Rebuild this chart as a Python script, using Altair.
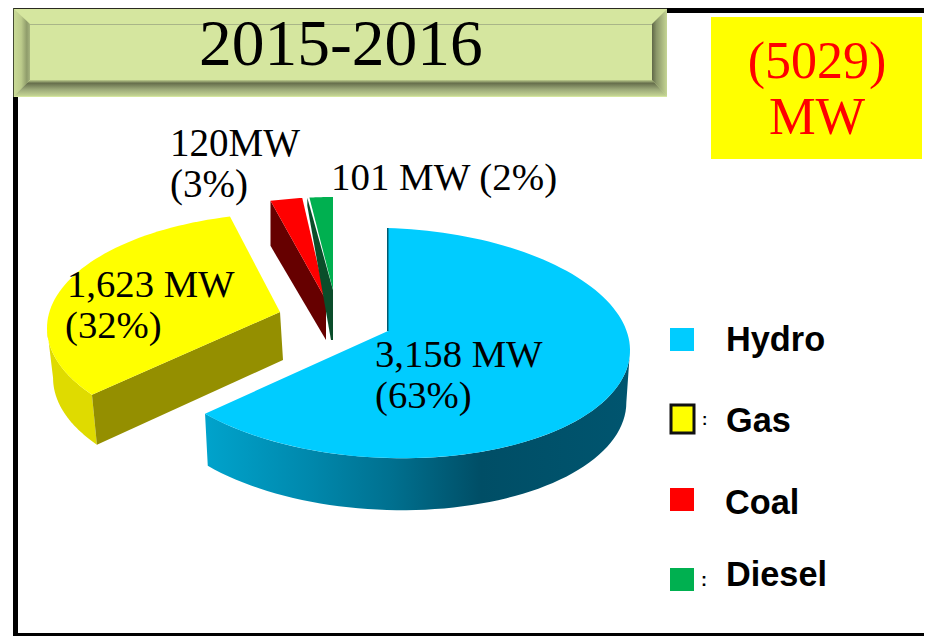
import math
import altair as alt
import pandas as pd

# ---- values ----
categories = ["Hydro", "Gas", "Coal", "Diesel"]
values_mw = [3158, 1623, 120, 101]
colors = ["#00CCFF", "#FFFF00", "#FF0000", "#00B050"]
title_text = "2015-2016"
total_lines = ["(5029)", "MW"]

W, H = 916, 628
RX, RY = 243, 115

# per-slice layout of the exploded 3-D pie (page pixels)
layout = {
    "Hydro":  dict(cx=387, cy=343, ax=388, ay=331, d=52, s=0.985, tilt=0.03, a0=0, a1=1.2),
    "Gas":    dict(cx=290, cy=328, ax=280, ay=312, d=50, s=0.975, tilt=0.0, a0=7.3, a1=1.6),
    "Coal":   dict(cx=333, cy=312, ax=326, ay=300, d=40, s=1.0, tilt=0.0, a0=1, a1=0),
    "Diesel": dict(cx=333, cy=312, ax=333, ay=290, d=50, s=1.0, tilt=0.0, a0=1.2, a1=0),
}

x_scale = alt.Scale(domain=[8, 8 + W], range=[0, W], nice=False, zero=False)
y_scale = alt.Scale(domain=[8 + H, 8], range=[H, 0], nice=False, zero=False)


def poly(points, **mark):
    rows = [{"x": p[0], "y": p[1], "i": i} for i, p in enumerate(list(points) + [points[0]])]
    if "stroke" not in mark:
        mark["stroke"] = "#000000"
        mark["strokeOpacity"] = 0
    return alt.Chart(pd.DataFrame(rows)).mark_line(**mark).encode(
        x=alt.X("x:Q", scale=x_scale, axis=None),
        y=alt.Y("y:Q", scale=y_scale, axis=None),
        order="i:Q",
    )


def grad(stops, x1=0, y1=0, x2=1, y2=0):
    return alt.LinearGradient(
        gradient="linear", x1=x1, y1=y1, x2=x2, y2=y2,
        stops=[alt.GradientStop(offset=o, color=c) for o, c in stops],
    )


def rect(x0, y0, x1, y1, color, **kw):
    return alt.Chart(alt.Data(values=[{}])).mark_rect(color=color, **kw).encode(
        x=alt.value(x0 - 8), x2=alt.value(x1 - 8), y=alt.value(y0 - 8), y2=alt.value(y1 - 8)
    )


def text(s, x, y, size, font="Liberation Serif", color="#000000", align="left", weight="normal"):
    return alt.Chart(alt.Data(values=[{}])).mark_text(
        text=s, font=font, fontSize=size, color=color, align=align,
        baseline="alphabetic", fontWeight=weight,
    ).encode(x=alt.value(x - 8), y=alt.value(y - 8))


def top_pt(l, deg):
    t = math.radians(deg)
    x = l["cx"] + RX * math.sin(t)
    y = l["cy"] - RY * math.cos(t) + l["tilt"] * (x - l["cx"])
    return (x, y)


def bot_pt(l, deg):
    t = math.radians(deg)
    x = l["cx"] + RX * l["s"] * math.sin(t)
    y = l["cy"] - RY * math.cos(t) + l["tilt"] * (x - l["cx"]) + l["d"]
    return (x, y)


def arc(fn, l, a, b, n=60):
    return [fn(l, a + (b - a) * k / n) for k in range(n + 1)]


total = sum(values_mw)
angles = {}
acc = 0.0
for name, v in zip(categories, values_mw):
    start = acc / total * 360
    acc += v
    end = acc / total * 360
    l = layout[name]
    angles[name] = (start + l["a0"], end + l["a1"])

layers = []

# frame
layers += [
    rect(13, 97, 18, 636, "#000000"),
    rect(13, 633, 924, 636, "#000000"),
    rect(660, 8, 924, 13, "#000000"),
]

# bevelled title box
layers.append(rect(13, 8, 667, 97, "#D5E69F"))
layers.append(poly([(14, 9), (30, 24), (30, 80), (14, 96)],
                   fill=grad([(0, "#C9DA96"), (0.45, "#BCCB8B"), (0.8, "#8F9C6B"), (1, "#A6B47F")])))
layers.append(poly([(14, 96), (30, 80), (652, 80), (667, 96)],
                   fill=grad([(0, "#C5D594"), (0.42, "#9BA878"), (0.8, "#666E4C"), (1, "#BFCF8E")],
                             x1=0, y1=1, x2=0, y2=0)))
layers.append(poly([(667, 9), (652, 24), (652, 80), (667, 96)],
                   fill=grad([(0, "#5F6747"), (0.3, "#8A9669"), (1, "#C5D594")])))
layers.append(rect(30, 24, 652, 25, "#A9B588"))
layers.append(rect(13, 8, 667, 9, "#2A2A20"))
layers.append(rect(13, 8, 14, 97, "#444A33"))
layers.append(rect(711, 17, 922, 159, "#FFFF00"))

# ---- pie ----
h = layout["Hydro"]
a0, a1 = angles["Hydro"]
layers.append(poly(arc(top_pt, h, 90, a1) + arc(bot_pt, h, a1, 90),
                   fill=grad([(0, "#00A3CC"), (0.25, "#0088AC"), (0.44, "#00708F"),
                              (0.65, "#004E66"), (1, "#00556F")])))
layers.append(poly([(h["ax"], h["ay"])] + arc(top_pt, h, a0, a1, 120), fill=colors[0]))
layers.append(poly([top_pt(h, a0), (top_pt(h, a0)[0] + 1.5, top_pt(h, a0)[1]),
                    (h["ax"] + 0.5, h["ay"]), (h["ax"] - 1, h["ay"])], fill="#005A70"))

g = layout["Gas"]
a0, a1 = angles["Gas"]
layers.append(poly(arc(top_pt, g, a0, 270) + arc(bot_pt, g, 270, a0), fill="#DFDB00"))
c0, c1 = top_pt(g, a0), bot_pt(g, a0)
layers.append(poly([c0, (g["ax"], g["ay"]), (g["ax"] + 3, g["ay"] + 48), c1], fill="#948F00"))
layers.append(poly([(g["ax"], g["ay"])] + arc(top_pt, g, a0, a1), fill=colors[1]))

c = layout["Coal"]
a0, a1 = angles["Coal"]
c0 = top_pt(c, a0)
layers.append(poly([c0, (c["ax"], c["ay"]), (c["ax"], c["ay"] + c["d"]), (c0[0], c0[1] + 45)],
                   fill="#660000"))
layers.append(poly([(c["ax"], c["ay"])] + arc(top_pt, c, a0, a1, 12), fill=colors[2]))

d = layout["Diesel"]
a0, a1 = angles["Diesel"]
d0 = top_pt(d, a0)
layers.append(poly([d0, (d["ax"], d["ay"]), (d["ax"], d["ay"] + d["d"]),
                    (d["ax"] - 2, d["ay"] + d["d"]), (d0[0], d0[1] + 8)],
                   fill="#0A4D2A"))
layers.append(poly([(d["ax"], d["ay"])] + arc(top_pt, d, a0 + 0.5, a1, 12), fill=colors[3]))

# ---- legend ----
layers += [
    rect(670, 328, 694, 351, colors[0]),
    rect(671, 405, 694, 433, colors[1], stroke="#111111", strokeWidth=3),
    rect(670, 488, 694, 511, colors[2]),
    rect(670, 568, 694, 591, colors[3]),
    text(":", 702, 425, 16, font="Liberation Sans", weight="bold"),
    text(":", 701, 586, 18, font="Liberation Sans", weight="bold"),
]
for name, lx, ly in zip(categories, [726, 726, 725, 726], [351, 432, 514, 586]):
    layers.append(text(name, lx, ly, 34.3, font="Liberation Sans", weight="bold"))

# ---- texts ----
layers += [
    text(title_text, 199, 65, 65.5),
    text(total_lines[0], 817, 78, 52, color="#FF0000", align="center"),
    text(total_lines[1], 817, 134, 52.5, color="#FF0000", align="center"),
    text("120MW", 170, 156, 39),
    text("(3%)", 170, 197, 39),
    text("101 MW (2%)", 331, 190, 38.9),
    text("1,623 MW", 67, 297, 38.7),
    text("(32%)", 65, 338, 38.7),
    text("3,158 MW", 375, 367, 38.7),
    text("(63%)", 375, 408, 38.7),
]

chart = alt.layer(*layers).properties(
    width=W, height=H, padding=0, background="#FFFFFF",
    autosize=alt.AutoSizeParams(type="none"),
).configure_view(stroke=None)

chart.save("out.html", embed_options={"renderer": "svg", "actions": False})
